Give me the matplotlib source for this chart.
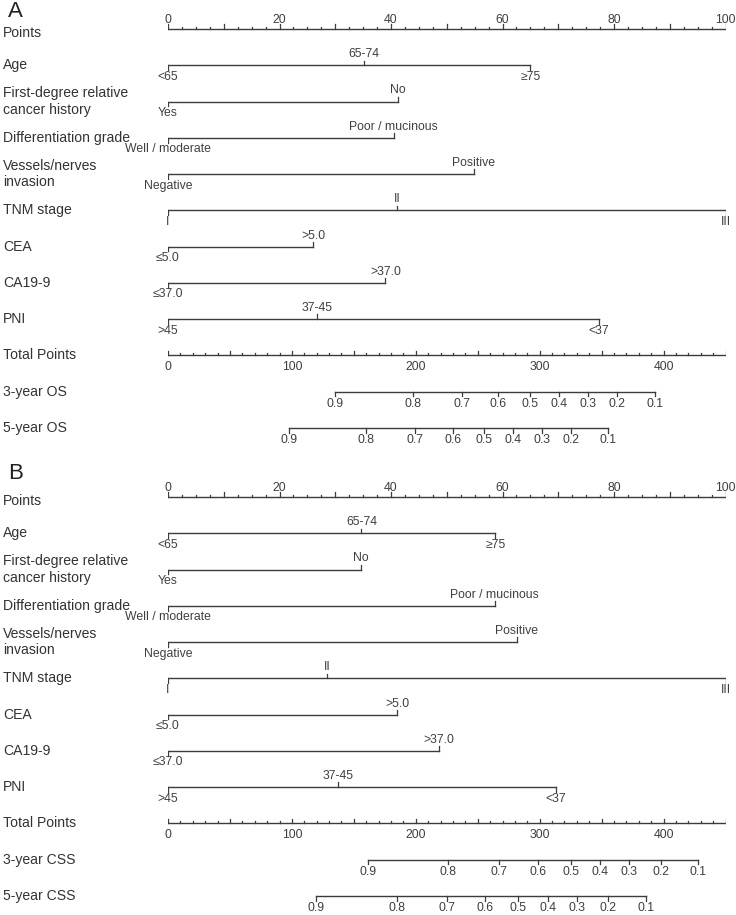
import matplotlib
matplotlib.use("Agg")
import matplotlib.pyplot as plt
import matplotlib.transforms as mtransforms
import numpy as np

plt.rcParams['font.family'] = ['Liberation Sans', 'DejaVu Sans']

# ---- data ----
row_names_A = ["Points", "Age", "First-degree relative\ncancer history", "Differentiation grade",
               "Vessels/nerves\ninvasion", "TNM stage", "CEA", "CA19-9", "PNI",
               "Total Points", "3-year OS", "5-year OS"]
row_names_B = ["Points", "Age", "First-degree relative\ncancer history", "Differentiation grade",
               "Vessels/nerves\ninvasion", "TNM stage", "CEA", "CA19-9", "PNI",
               "Total Points", "3-year CSS", "5-year CSS"]

age_labels = ["<65", "65-74", "≥75"]
fdr_labels = ["Yes", "No"]
diff_labels = ["Well / moderate", "Poor / mucinous"]
vni_labels = ["Negative", "Positive"]
tnm_labels = ["I", "II", "III"]
cea_labels = ["≤5.0", ">5.0"]
ca199_labels = ["≤37.0", ">37.0"]
pni_labels = [">45", "37-45", "<37"]

# points for each level, model A (OS) and model B (CSS)
age_A = [0, 35.2, 65.0]
fdr_A = [0, 41.3]
diff_A = [0, 40.5]
vni_A = [0, 54.8]
tnm_A = [0, 41.1, 100]
cea_A = [0, 26.0]
ca199_A = [0, 39.0]
pni_A = [0, 26.7, 77.3]

age_B = [0, 34.7, 58.7]
fdr_B = [0, 34.6]
diff_B = [0, 58.6]
vni_B = [0, 62.6]
tnm_B = [0, 28.5, 100]
cea_B = [0, 41.1]
ca199_B = [0, 48.6]
pni_B = [0, 30.5, 69.6]

surv_probs = [0.9, 0.8, 0.7, 0.6, 0.5, 0.4, 0.3, 0.2, 0.1]
os3_total = [134.6, 197.5, 237.1, 266.4, 292.2, 315.4, 338.8, 362.4, 392.8]
os5_total = [97.9, 159.8, 199.4, 229.8, 255.3, 278.5, 301.9, 325.5, 355.2]
css3_total = [161.7, 226.2, 267.4, 298.6, 325.0, 348.7, 371.8, 397.6, 427.8]
css5_total = [119.4, 184.6, 224.9, 256.1, 282.2, 306.4, 329.8, 354.9, 385.8]

max_points = 100
max_total = 450

line_col = '#3c3c3c'
text_col = '#333333'
tick_col = '#3f3f3f'
lbl_fs = 10.1
tick_fs = 8.8
W, H = 736, 915

fig = plt.figure(figsize=(W / 100, H / 100), dpi=100)


def panel(top_px, bottom_px, letter, letter_y, names, factors, surv):
    ax = fig.add_axes([168 / W, 1 - bottom_px / H, 557.5 / W, (bottom_px - top_px) / H])
    ax.set_xlim(0, max_points)
    ax.set_ylim(len(names) - 0.5, -0.5)
    ax.axis('off')
    tk = 0.13  # tick length in rows
    scale = max_points / max_total

    # row names on the left
    trans = mtransforms.blended_transform_factory(fig.transFigure, ax.transData)
    for i, nm in enumerate(names):
        yy = i + 0.1 if i == 0 else i
        ax.text(3 / W, yy, nm, transform=trans, ha='left', va='center',
                fontsize=lbl_fs, color=text_col, linespacing=1.25)
    fig.text(8 / W, 1 - letter_y / H, letter, fontsize=16, color='#222222', va='top')

    # Points axis
    ax.plot([0, max_points], [0, 0], color=line_col, lw=1)
    for v in np.arange(0, max_points + 0.1, 2.5):
        L = tk if v % 10 == 0 else tk * 0.5
        ax.plot([v, v], [0, -L], color=line_col, lw=0.9)
    for v in range(0, max_points + 1, 20):
        ax.text(v, -tk + 0.04, str(v), ha='center', va='bottom', fontsize=tick_fs, color=tick_col)

    # categorical rows
    for r, (labs, pts) in enumerate(factors, start=1):
        ax.plot([min(pts), max(pts)], [r, r], color=line_col, lw=1)
        for k, (lb, p) in enumerate(zip(labs, pts)):
            if k % 2 == 0:
                ax.plot([p, p], [r, r + tk], color=line_col, lw=0.9)
                ax.text(p, r + tk + 0.02, lb, ha='center', va='top', fontsize=tick_fs, color=tick_col)
            else:
                ax.plot([p, p], [r, r - tk], color=line_col, lw=0.9)
                ax.text(p, r - tk - 0.01, lb, ha='center', va='bottom', fontsize=tick_fs, color=tick_col)

    # Total points axis
    rt = len(factors) + 1
    ax.plot([0, max_total * scale], [rt, rt], color=line_col, lw=1)
    for v in range(0, max_total + 1, 10):
        L = tk if v % 50 == 0 else tk * 0.6
        ax.plot([v * scale, v * scale], [rt, rt - L], color=line_col, lw=0.9)
    for v in range(0, max_total, 100):
        ax.text(v * scale, rt + 0.32, str(v), ha='center', va='center', fontsize=tick_fs, color=tick_col)

    # survival axes
    for j, tot in enumerate(surv):
        rs = rt + 1 + j
        xs = np.array(tot) * scale
        ax.plot([xs.min(), xs.max()], [rs, rs], color=line_col, lw=1)
        for pr, x in zip(surv_probs, xs):
            ax.plot([x, x], [rs, rs + tk], color=line_col, lw=0.9)
            ax.text(x, rs + 0.33, f"{pr:.1f}", ha='center', va='center', fontsize=tick_fs, color=tick_col)
    return ax


factors_A = [(age_labels, age_A), (fdr_labels, fdr_A), (diff_labels, diff_A), (vni_labels, vni_A),
             (tnm_labels, tnm_A), (cea_labels, cea_A), (ca199_labels, ca199_A), (pni_labels, pni_A)]
factors_B = [(age_labels, age_B), (fdr_labels, fdr_B), (diff_labels, diff_B), (vni_labels, vni_B),
             (tnm_labels, tnm_B), (cea_labels, cea_B), (ca199_labels, ca199_B), (pni_labels, pni_B)]

panel(29 - 18.1, 428 + 18.1, "A", 1, row_names_A, factors_A, [os3_total, os5_total])
panel(497 - 18.2, 896 + 18.2, "B", 463, row_names_B, factors_B, [css3_total, css5_total])

fig.savefig("out.png", dpi=100, facecolor='white')
